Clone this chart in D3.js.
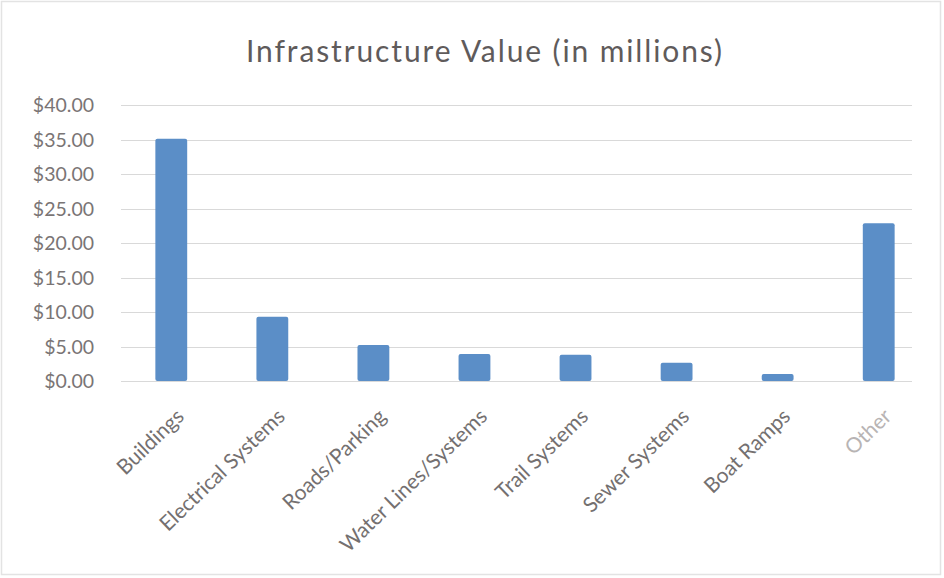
<!DOCTYPE html>
<html>
<head>
<meta charset="utf-8">
<script src="https://cdn.jsdelivr.net/npm/d3@7"></script>
<style>
  html, body { margin: 0; padding: 0; background: #fff; }
  svg { display: block; font-family: Lato, "Open Sans", sans-serif; }
</style>
</head>
<body>
<svg id="chart" width="944" height="578"></svg>
<script>
const categories = ["Buildings", "Electrical Systems", "Roads/Parking", "Water Lines/Systems", "Trail Systems", "Sewer Systems", "Boat Ramps", "Other"];
const values = [35.1, 9.3, 5.2, 3.9, 3.8, 2.65, 1.0, 22.85];
const yTicks = [0, 5, 10, 15, 20, 25, 30, 35, 40];
const title = "Infrastructure Value (in millions)";

const svg = d3.select("#chart");
const W = 944, H = 578;
const margin = { left: 121, right: 15, top: 105, bottom: 197 };

svg.append("rect")
  .attr("x", 1.5).attr("y", 1.5).attr("width", W - 5).attr("height", H - 5)
  .attr("fill", "#fff").attr("stroke", "#e3e3e3").attr("stroke-width", 1.5);

const x = d3.scaleBand().domain(categories).range([margin.left, W - margin.right]).paddingInner(0.685).paddingOuter(0.34);
const y = d3.scaleLinear().domain([0, 40]).range([H - margin.bottom, margin.top]);

// grid
svg.append("g").selectAll("line").data(yTicks).join("line")
  .attr("x1", margin.left).attr("x2", 912)
  .attr("y1", d => Math.round(y(d)) + 0.5).attr("y2", d => Math.round(y(d)) + 0.5)
  .attr("stroke", "#d9d9d9").attr("stroke-width", 1);

// y axis labels
const yAxis = d3.axisLeft(y).tickValues(yTicks).tickSize(0).tickPadding(0)
  .tickFormat(d => "$" + d3.format(".2f")(d));
const gy = svg.append("g").attr("transform", "translate(94,0)").call(yAxis);
gy.select(".domain").remove();
gy.selectAll("text").attr("font-size", 19.5).attr("fill", "#7a7575").attr("font-family", "Lato, sans-serif").attr("dy", "0.35em");

// bars
svg.append("g").selectAll("rect").data(values).join("rect")
  .attr("x", (d, i) => x(categories[i]))
  .attr("width", x.bandwidth())
  .attr("y", d => y(d))
  .attr("height", d => y(0) - y(d))
  .attr("rx", 2)
  .attr("fill", "#5b8ec7");

// x axis labels
const xAxis = d3.axisBottom(x).tickSize(0).tickPadding(0);
const gx = svg.append("g").attr("transform", `translate(0,${y(0)})`).call(xAxis);
gx.select(".domain").remove();
gx.selectAll("text")
  .attr("font-size", 21).attr("fill", "#747070").attr("font-family", "Lato, sans-serif")
  .attr("text-anchor", "end")
  .attr("dy", 0)
  .attr("transform", "translate(14,37) rotate(-44)");
gx.selectAll(".tick").filter(d => d === "Other").select("text").attr("fill", "#b8b4b4");

// title
svg.append("text")
  .attr("x", 484).attr("y", 62)
  .attr("text-anchor", "middle")
  .attr("font-size", 30).attr("fill", "#5f5b5b")
  .attr("font-family", "Lato, sans-serif")
  .attr("textLength", 476).attr("lengthAdjust", "spacing")
  .text(title);
</script>
</body>
</html>
